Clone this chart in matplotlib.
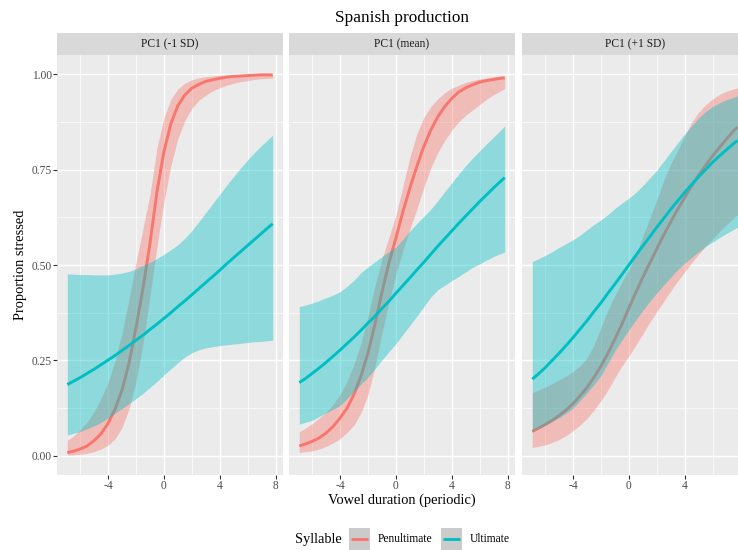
import matplotlib
matplotlib.use("Agg")
import matplotlib.pyplot as plt
from matplotlib.patches import Rectangle
from matplotlib.lines import Line2D

plt.rcParams['font.family'] = ['Liberation Serif', 'DejaVu Serif']

# ---- data -----------------------------------------------------------------
duration = [-6.92, -6.5, -6.0, -5.5, -5.0, -4.5, -4.0, -3.5, -3.0, -2.5, -2.0,
            -1.5, -1.0, -0.5, 0.0, 0.5, 1.0, 1.5, 2.0, 2.5, 3.0, 3.5, 4.0, 4.5,
            5.0, 5.5, 6.0, 6.5, 7.0, 7.5, 7.8]

facets = ["PC1 (-1 SD)", "PC1 (mean)", "PC1 (+1 SD)"]
syllables = ["Penultimate", "Ultimate"]

# PC1 (-1 SD)
pen_fit_1 = [0.009, 0.012, 0.018, 0.026, 0.040, 0.058, 0.085, 0.122, 0.172, 0.243, 0.335,
             0.438, 0.555, 0.690, 0.796, 0.870, 0.917, 0.945, 0.963, 0.973, 0.981, 0.985,
             0.989, 0.992, 0.994, 0.995, 0.996, 0.997, 0.998, 0.998, 0.998]
pen_lo_1 = [0.002, 0.003, 0.004, 0.007, 0.011, 0.018, 0.028, 0.045, 0.074, 0.122, 0.195,
            0.292, 0.418, 0.546, 0.664, 0.760, 0.831, 0.878, 0.910, 0.931, 0.945, 0.956,
            0.964, 0.971, 0.976, 0.980, 0.983, 0.986, 0.988, 0.989, 0.990]
pen_hi_1 = [0.041, 0.051, 0.068, 0.089, 0.116, 0.150, 0.192, 0.249, 0.321, 0.410, 0.505,
            0.595, 0.684, 0.805, 0.885, 0.934, 0.961, 0.976, 0.985, 0.990, 0.993, 0.995,
            0.997, 0.998, 0.998, 0.999, 0.999, 0.999, 1.000, 1.000, 1.000]
ult_fit_1 = [0.187, 0.195, 0.205, 0.216, 0.227, 0.239, 0.251, 0.263, 0.276, 0.289, 0.303,
             0.316, 0.331, 0.345, 0.360, 0.375, 0.391, 0.406, 0.422, 0.438, 0.454, 0.470,
             0.486, 0.503, 0.519, 0.535, 0.551, 0.567, 0.583, 0.599, 0.608]
ult_lo_1 = [0.055, 0.059, 0.064, 0.071, 0.079, 0.088, 0.099, 0.112, 0.124, 0.137, 0.150,
            0.164, 0.179, 0.195, 0.212, 0.228, 0.244, 0.259, 0.270, 0.278, 0.283, 0.286,
            0.289, 0.291, 0.293, 0.295, 0.297, 0.299, 0.300, 0.302, 0.303]
ult_hi_1 = [0.477, 0.476, 0.475, 0.475, 0.474, 0.474, 0.474, 0.476, 0.479, 0.483, 0.490,
            0.499, 0.507, 0.517, 0.528, 0.540, 0.553, 0.570, 0.590, 0.613, 0.637, 0.661,
            0.685, 0.709, 0.732, 0.754, 0.775, 0.795, 0.813, 0.830, 0.840]

# PC1 (mean)
pen_fit_2 = [0.026, 0.031, 0.038, 0.047, 0.060, 0.077, 0.099, 0.125, 0.161, 0.209, 0.269,
             0.345, 0.428, 0.505, 0.570, 0.639, 0.701, 0.758, 0.810, 0.853, 0.888, 0.915,
             0.936, 0.953, 0.964, 0.972, 0.979, 0.983, 0.986, 0.989, 0.990]
pen_lo_2 = [0.009, 0.011, 0.013, 0.018, 0.025, 0.034, 0.045, 0.061, 0.081, 0.113, 0.160,
            0.233, 0.321, 0.401, 0.475, 0.537, 0.594, 0.646, 0.703, 0.754, 0.794, 0.826,
            0.853, 0.875, 0.892, 0.906, 0.920, 0.934, 0.946, 0.956, 0.962]
pen_hi_2 = [0.063, 0.072, 0.084, 0.099, 0.114, 0.135, 0.161, 0.195, 0.240, 0.295, 0.366,
            0.445, 0.515, 0.572, 0.630, 0.705, 0.782, 0.843, 0.886, 0.915, 0.935, 0.951,
            0.963, 0.971, 0.978, 0.983, 0.987, 0.990, 0.993, 0.995, 0.996]
ult_fit_2 = [0.192, 0.202, 0.216, 0.230, 0.245, 0.261, 0.277, 0.294, 0.311, 0.329, 0.348,
             0.366, 0.386, 0.405, 0.426, 0.446, 0.466, 0.487, 0.507, 0.528, 0.549, 0.569,
             0.589, 0.609, 0.628, 0.647, 0.666, 0.684, 0.702, 0.719, 0.729]
ult_lo_2 = [0.083, 0.088, 0.093, 0.103, 0.113, 0.122, 0.132, 0.150, 0.169, 0.188, 0.206,
            0.228, 0.251, 0.273, 0.294, 0.318, 0.342, 0.366, 0.391, 0.416, 0.435, 0.447,
            0.459, 0.470, 0.482, 0.494, 0.503, 0.513, 0.522, 0.530, 0.534]
ult_hi_2 = [0.391, 0.395, 0.400, 0.407, 0.414, 0.421, 0.430, 0.444, 0.460, 0.480, 0.495,
            0.508, 0.522, 0.535, 0.547, 0.567, 0.589, 0.608, 0.627, 0.646, 0.668, 0.692,
            0.715, 0.738, 0.760, 0.780, 0.799, 0.817, 0.835, 0.853, 0.864]

# PC1 (+1 SD)
pen_fit_3 = [0.064, 0.072, 0.082, 0.093, 0.106, 0.120, 0.137, 0.157, 0.179, 0.206, 0.235,
             0.269, 0.306, 0.345, 0.387, 0.428, 0.468, 0.505, 0.542, 0.579, 0.613, 0.646,
             0.677, 0.707, 0.735, 0.761, 0.786, 0.808, 0.830, 0.851, 0.862]
pen_lo_3 = [0.022, 0.025, 0.029, 0.035, 0.043, 0.053, 0.066, 0.081, 0.098, 0.120, 0.145,
            0.173, 0.205, 0.235, 0.262, 0.290, 0.320, 0.350, 0.378, 0.405, 0.432, 0.458,
            0.482, 0.506, 0.528, 0.549, 0.569, 0.588, 0.606, 0.622, 0.632]
pen_hi_3 = [0.166, 0.172, 0.180, 0.189, 0.199, 0.209, 0.221, 0.236, 0.256, 0.290, 0.336,
            0.382, 0.420, 0.455, 0.488, 0.527, 0.575, 0.623, 0.671, 0.722, 0.765, 0.800,
            0.838, 0.874, 0.900, 0.920, 0.935, 0.947, 0.955, 0.961, 0.964]
ult_fit_3 = [0.201, 0.214, 0.231, 0.250, 0.269, 0.289, 0.310, 0.332, 0.354, 0.378, 0.401,
             0.426, 0.450, 0.475, 0.500, 0.525, 0.550, 0.574, 0.599, 0.622, 0.646, 0.668,
             0.690, 0.711, 0.731, 0.750, 0.769, 0.786, 0.802, 0.818, 0.826]
ult_lo_3 = [0.064, 0.072, 0.080, 0.090, 0.100, 0.112, 0.125, 0.145, 0.165, 0.187, 0.210,
            0.243, 0.275, 0.303, 0.330, 0.356, 0.381, 0.405, 0.427, 0.448, 0.468, 0.488,
            0.505, 0.520, 0.535, 0.549, 0.560, 0.572, 0.583, 0.593, 0.599]
ult_hi_3 = [0.509, 0.516, 0.525, 0.535, 0.546, 0.556, 0.566, 0.578, 0.592, 0.606, 0.618,
            0.632, 0.648, 0.662, 0.675, 0.690, 0.708, 0.728, 0.748, 0.772, 0.796, 0.820,
            0.843, 0.865, 0.885, 0.902, 0.915, 0.925, 0.933, 0.939, 0.943]

x_ticks = [-4, 0, 4, 8]
x_tick_labels = ["-4", "0", "4", "8"]
x_minor = [-6, -2, 2, 6]
y_ticks = [0.00, 0.25, 0.50, 0.75, 1.00]
y_tick_labels = ["0.00", "0.25", "0.50", "0.75", "1.00"]
y_minor = [0.125, 0.375, 0.625, 0.875]

colors = {"Penultimate": "#F8766D", "Ultimate": "#00BFC4"}

panels = [
    {"Penultimate": (pen_fit_1, pen_lo_1, pen_hi_1), "Ultimate": (ult_fit_1, ult_lo_1, ult_hi_1)},
    {"Penultimate": (pen_fit_2, pen_lo_2, pen_hi_2), "Ultimate": (ult_fit_2, ult_lo_2, ult_hi_2)},
    {"Penultimate": (pen_fit_3, pen_lo_3, pen_hi_3), "Ultimate": (ult_fit_3, ult_lo_3, ult_hi_3)},
]

# ---- layout (pixel based) -------------------------------------------------
W, H = 738, 550
fig = plt.figure(figsize=(W / 100, H / 100), dpi=100)
fig.patch.set_facecolor("white")


def fx(px):
    return px / W


def fy(py):
    return 1 - py / H


panel_lefts = [57, 289, 522]
panel_w = 226
p_top, p_bot = 55, 475
strip_top = 33

tick_col = "#4D4D4D"
for i, (left, name, series) in enumerate(zip(panel_lefts, facets, panels)):
    ax = fig.add_axes([fx(left), fy(p_bot), panel_w / W, (p_bot - p_top) / H])
    ax.set_facecolor("#EBEBEB")
    for s in ax.spines.values():
        s.set_visible(False)
    ax.set_xlim(-7.656, 8.536)
    ax.set_ylim(-0.05, 1.05)
    # the last facet runs past the right edge of the figure, so its "8" label is not shown
    ticks = x_ticks if i < 2 else x_ticks[:-1]
    ax.set_xticks(ticks)
    ax.set_xticklabels(x_tick_labels[:len(ticks)])
    ax.set_xticks(x_minor, minor=True)
    ax.set_yticks(y_ticks)
    ax.set_yticks(y_minor, minor=True)
    ax.grid(which="major", color="white", lw=1.05)
    ax.grid(which="minor", color="white", lw=0.5)
    if i == 2:
        ax.axvline(8, color="white", lw=1.05, zorder=0.5)
    ax.set_axisbelow(True)
    ax.tick_params(which="minor", length=0)
    ax.tick_params(axis="x", which="major", length=2.6, width=0.8, color="#333333",
                   labelsize=8.3, labelcolor=tick_col, pad=1.1)
    if i == 0:
        ax.set_yticklabels(y_tick_labels)
        ax.tick_params(axis="y", which="major", length=2.6, width=0.8, color="#333333",
                       labelsize=8.3, labelcolor=tick_col, pad=1.2)
    else:
        ax.tick_params(axis="y", which="major", length=0, labelleft=False)

    z = 2
    for syl in syllables:
        fit, lo, hi = series[syl]
        ax.fill_between(duration, lo, hi, color=colors[syl], alpha=0.4, lw=0, zorder=z)
        ax.plot(duration, fit, color=colors[syl], lw=2.1, solid_capstyle="butt", zorder=z + 1)
        z += 2

    sax = fig.add_axes([fx(left), fy(p_top), panel_w / W, (p_top - strip_top) / H])
    sax.set_facecolor("#D9D9D9")
    sax.set_xticks([])
    sax.set_yticks([])
    for s in sax.spines.values():
        s.set_visible(False)
    sax.text(0.5, 0.5, name, ha="center", va="center", size=8.3, color="#1A1A1A",
             transform=sax.transAxes)

# ---- titles ---------------------------------------------------------------
fig.text(fx(402), fy(18), "Spanish production", ha="center", va="center", size=12.4)
fig.text(fx(402), fy(504), "Vowel duration (periodic)", ha="center", va="baseline", size=10.4)
fig.text(fx(21), fy(265), "Proportion stressed", ha="center", va="center",
         rotation=90, size=10.4)

# ---- legend ---------------------------------------------------------------
leg_y = 539
fig.text(fx(295), fy(leg_y), "Syllable", ha="left", va="center", size=10.4)
key_specs = [(348.5, "Penultimate", 378), (441, "Ultimate", 469.5)]
for kx, lab, tx in key_specs:
    fig.patches.append(Rectangle((fx(kx), fy(leg_y + 11)), 21 / W, 22 / H,
                                 transform=fig.transFigure, facecolor="#CBCBCB",
                                 edgecolor="none"))
    fig.lines.append(Line2D([fx(kx + 2), fx(kx + 19)], [fy(leg_y), fy(leg_y)],
                            transform=fig.transFigure, color=colors[lab], lw=2.1,
                            solid_capstyle="butt"))
    fig.text(fx(tx), fy(leg_y), lab, ha="left", va="center", size=8.3)

fig.savefig("out.png", dpi=100)
